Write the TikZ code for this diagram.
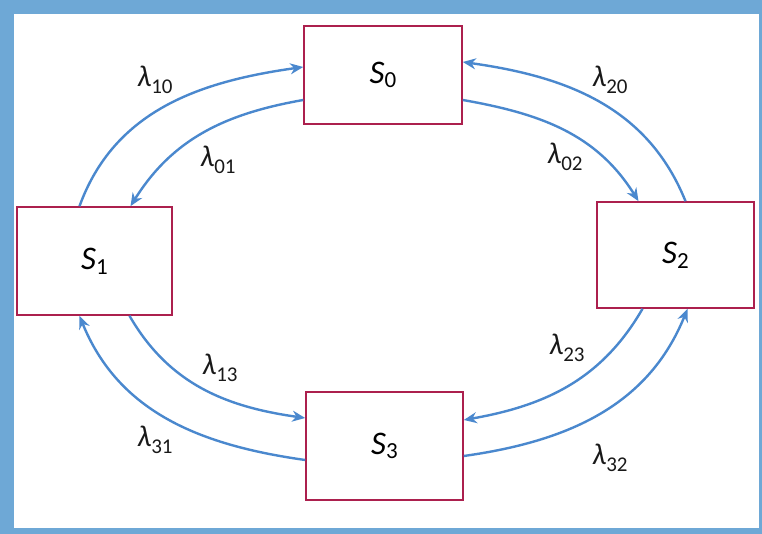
\documentclass[tikz,border=0pt]{standalone}
\usepackage{fontspec}
\setmainfont{Carlito}
\usetikzlibrary{arrows.meta, positioning}
\definecolor{frameblue}{RGB}{110,168,214}
\definecolor{arcblue}{RGB}{74,136,206}
\definecolor{boxred}{RGB}{172,32,78}
\newcommand{\stname}[1]{\textit{S}\raisebox{-0.3ex}{\fontsize{23}{24}\selectfont #1}}
\newcommand{\rate}[1]{\textit{λ}\raisebox{-0.45ex}{\fontsize{21}{22}\selectfont #1}}
\tikzset{
  state/.style = {rectangle, draw=boxred, line width=1.6pt, fill=white,
                  minimum width=157pt, minimum height=106pt,
                  font=\fontsize{33}{36}\selectfont},
  tr/.style    = {-{Stealth[length=13pt, width=11pt]}, draw=arcblue,
                  line width=2.4pt},
  lbl/.style   = {font=\fontsize{30}{32}\selectfont, text=black!90, inner sep=1pt},
}
\begin{document}
\begin{tikzpicture}[x=1pt, y=1pt]
  \useasboundingbox (0,0) rectangle (762,534);
  \fill[frameblue] (0,0) rectangle (762,534);
  \fill[white] (14,6) rectangle (759,520);

  \node[state, minimum width=158pt, minimum height=98pt] (s0) at (383,459) {\stname{0}};
  \node[state, minimum width=155pt, minimum height=108pt] (s1) at (94.5,273) {\stname{1}};
  \node[state, minimum width=157pt, minimum height=106pt] (s2) at (675.5,279) {\stname{2}};
  \node[state, minimum width=157pt, minimum height=108pt] (s3) at (384.5,88) {\stname{3}};

  \draw[tr] ([xshift=-15pt]s1.north) to[out=70, in=188] ([yshift=8pt]s0.west);
  \draw[tr] ([yshift=-25pt]s0.west) to[out=190, in=58] ([xshift=36pt]s1.north);
  \draw[tr] ([xshift=10pt]s2.north) to[out=112, in=-8] ([yshift=13pt]s0.east);
  \draw[tr] ([yshift=-25pt]s0.east) to[out=-10, in=122] ([xshift=-37pt]s2.north);
  \draw[tr] ([xshift=-33pt]s2.south) to[out=-120, in=10] ([yshift=26pt]s3.east);
  \draw[tr] ([yshift=-10pt]s3.east) to[out=8, in=-112] ([xshift=12pt]s2.south);
  \draw[tr] ([xshift=35pt]s1.south) to[out=-60, in=172] ([yshift=28pt]s3.west);
  \draw[tr] ([yshift=-14pt]s3.west) to[out=172, in=-68] ([xshift=-15pt]s1.south);

  \node[lbl] (l10) at (155,454) {\rate{10}};
  \node[lbl] (l01) at (218,374) {\rate{01}};
  \node[lbl] (l20) at (610,454) {\rate{20}};
  \node[lbl] (l02) at (565,377) {\rate{02}};
  \node[lbl] (l23) at (567,186) {\rate{23}};
  \node[lbl] (l32) at (610,76) {\rate{32}};
  \node[lbl] (l13) at (220,166) {\rate{13}};
  \node[lbl] (l31) at (155,94) {\rate{31}};
\end{tikzpicture}
\end{document}
